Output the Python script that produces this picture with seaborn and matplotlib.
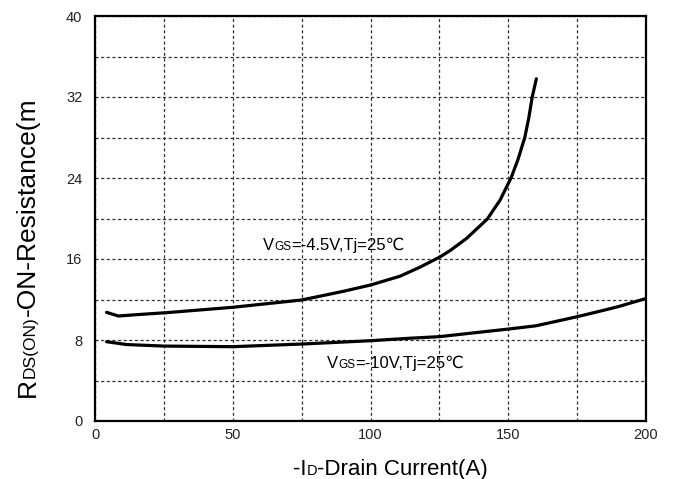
import matplotlib
matplotlib.use("Agg")
import numpy as np
import pandas as pd
import seaborn as sns
import matplotlib.pyplot as plt
from matplotlib.transforms import offset_copy
from matplotlib.ticker import MultipleLocator

# values
id_45 = [4.2, 8.5, 15, 26, 50, 75, 90, 100, 110.7, 118, 125.2, 129, 134.9, 142.4,
         147, 151, 153.5, 156, 157.5, 158.7, 160.2]
rds_45 = [10.73, 10.37, 10.5, 10.7, 11.23, 11.95, 12.8, 13.43, 14.3, 15.2, 16.2, 16.85,
          18.04, 19.95, 21.8, 24.0, 25.8, 28.0, 30.0, 32.0, 33.8]

id_10 = [4.2, 11.5, 25, 50, 75, 100, 114, 125, 150, 160, 175, 185, 190, 200]
rds_10 = [7.83, 7.55, 7.4, 7.34, 7.6, 7.93, 8.17, 8.33, 9.08, 9.4, 10.3, 10.96, 11.3, 12.1]

x_ticks = [0, 50, 100, 150, 200]
y_ticks = [0, 8, 16, 24, 32, 40]

sns.set_style("white")
plt.rcParams['font.family'] = ['Liberation Sans', 'DejaVu Sans']

fig = plt.figure(figsize=(6.73, 4.79), dpi=100)
ax = fig.add_axes([95 / 673, 1 - 421 / 479, 551 / 673, 405 / 479])

df = pd.concat([
    pd.DataFrame({"id": id_45, "rds": rds_45, "vgs": "-4.5V"}),
    pd.DataFrame({"id": id_10, "rds": rds_10, "vgs": "-10V"}),
])
sns.lineplot(data=df, x="id", y="rds", units="vgs", estimator=None, sort=False,
             color="black", linewidth=2.3, ax=ax, legend=False)

ax.set_xlim(0, 200)
ax.set_ylim(0, 40)
ax.set_xticks(x_ticks)
ax.set_yticks(y_ticks)
ax.xaxis.set_minor_locator(MultipleLocator(25))
ax.yaxis.set_minor_locator(MultipleLocator(4))
ax.grid(True, which="both", linestyle=(0, (2.5, 2)), color="#333333", linewidth=0.9)
ax.tick_params(which="both", length=0, labelsize=10.5, labelcolor="#222222")
ax.tick_params(axis="y", pad=9)
ax.tick_params(axis="x", pad=5)
for s in ax.spines.values():
    s.set_visible(True)
    s.set_color("black")
    s.set_linewidth(1.6)
ax.set_xlabel("")
ax.set_ylabel("")

renderer = fig.canvas.get_renderer()


def pieces(parts, x, y, transform, rotation=0):
    # draw text parts one after another with differing font sizes, same baseline
    shift = 0
    for txt, size in parts:
        if rotation:
            tr = offset_copy(transform, fig=fig, x=0, y=shift, units="dots")
        else:
            tr = offset_copy(transform, fig=fig, x=shift, y=0, units="dots")
        t = fig.text(x, y, txt, fontsize=size, transform=tr, rotation=rotation,
                     ha="left", va="baseline", rotation_mode="anchor", color="black")
        bb = t.get_window_extent(renderer)
        shift += bb.height if rotation else bb.width


pieces([("-I", 16), ("D", 10.5), ("-Drain Current(A)", 16)],
       293 / 673, 1 - 475 / 479, fig.transFigure)
pieces([("R", 19), ("DS(ON)", 12.5), ("-ON-Resistance(m", 19)],
       35 / 673, 1 - 397 / 479, fig.transFigure, rotation=90)

pieces([("V", 12), ("GS", 8.5), ("=-4.5V,Tj=25℃", 12)],
       263 / 673, 1 - 250 / 479, fig.transFigure)
pieces([("V", 12), ("GS", 8.5), ("=-10V,Tj=25℃", 12)],
       327 / 673, 1 - 368 / 479, fig.transFigure)

fig.savefig("out.png", dpi=100)
